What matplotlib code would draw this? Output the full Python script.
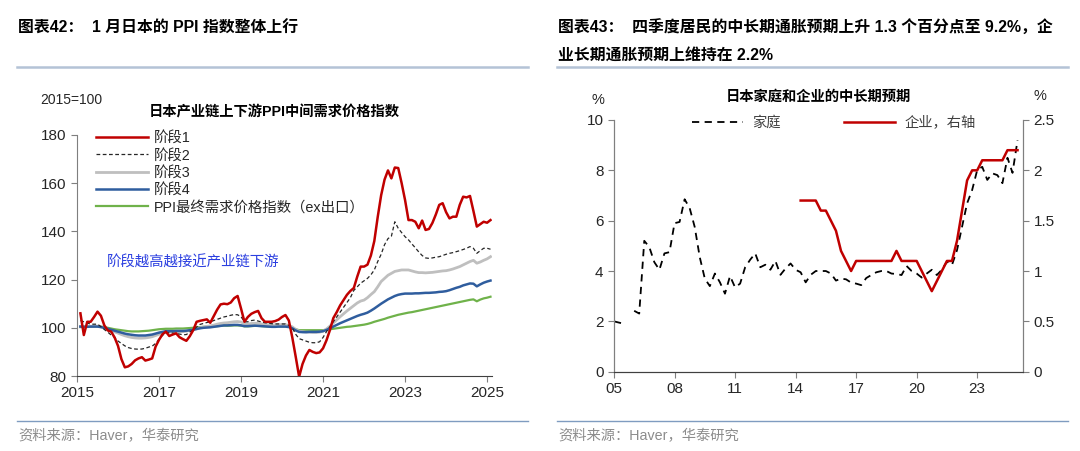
import matplotlib
matplotlib.use("Agg")
import matplotlib.pyplot as plt
import numpy as np
import pandas as pd
from matplotlib.lines import Line2D

plt.rcParams['font.family'] = ['Liberation Sans', 'Noto Sans CJK SC']
plt.rcParams['axes.unicode_minus'] = False

# ---- left panel data: monthly, Jan 2015 .. Jan 2025 ----
months = pd.period_range('2015-01', '2025-01', freq='M')

stage1 = [106, 97, 102.5, 102.5, 104.5, 106.7, 105, 101, 98.9, 98.4, 96, 92.5,
          87, 83.6, 84, 85, 86.5, 87.3, 87.8, 86.4, 86.8, 87.3, 92.2, 95,
          97.3, 98.4, 96.6, 97.2, 97.7, 96.1, 95.3, 94.6, 96.5, 99, 102.5, 102.9,
          103.2, 103.5, 102.1, 104.8, 107.5, 109.7, 110, 109.8, 110.5, 112.3, 113.2, 108,
          102.5, 104.5, 105.8, 106.5, 107, 104, 102.5, 102.5, 102.5, 102.8, 103.4, 104.5,
          105.3, 103, 96, 88, 79.7, 85, 88.5, 90.8, 90, 89.5, 89.8, 91.5,
          94.8, 99, 104, 106.5, 109.3, 111.5, 113.7, 115.3, 116.5, 121.2, 125.4, 125.4,
          126.2, 130, 136, 146, 155, 161.5, 165.3, 162, 166.5, 166.3, 160, 153,
          144.7, 144.7, 144, 141.3, 144.5, 140.6, 141, 143.5, 147, 151, 151.7, 148,
          145.4, 146.1, 146.1, 151, 154.4, 154.1, 154.7, 148.5, 142, 143, 144, 143.6,
          144.7]
stage2 = [103, 102.5, 102, 101.5, 101.5, 101.5, 100.5, 99.3, 98.2, 97, 96, 94.5,
          93.5, 92.5, 91.8, 91.4, 91.2, 91.1, 91.2, 91.5, 92, 92.4, 93.5, 95.3,
          96.8, 98, 97.9, 97.8, 97.6, 97.4, 97.1, 97.2, 98.2, 99.2, 100.3, 101.4,
          101.8, 102.2, 102.5, 103, 103.5, 104, 104.5, 104.8, 105.2, 105.5, 105.4, 104.6,
          102.5, 102.5, 103, 103.2, 102.8, 102.4, 102.1, 101.9, 101.7, 101.6, 101.6, 101.6,
          101.6, 101, 100, 97.3, 95.5, 95, 94.5, 94, 93.8, 93.8, 94.2, 96,
          98.4, 100.5, 102.5, 104.5, 106.5, 108.5, 110.5, 112.5, 115.5, 117, 118.5, 119.5,
          120.5, 122, 124, 127.5, 130.5, 134.5, 137, 138, 144, 141.3, 139.5, 137.8,
          136.5, 134.8, 133.2, 131.5, 130, 129, 128.8, 129, 129.3, 129.5, 130, 130.5,
          130.9, 131.2, 131.6, 132, 132.5, 133, 133.7, 133, 130.9, 132, 133, 133,
          132.6]
stage3 = [100.5, 100.5, 100.6, 100.6, 100.7, 100.7, 100.4, 100, 99.4, 98.8, 98.3, 97.8,
          97.2, 96.7, 96.3, 96, 95.8, 95.7, 95.7, 95.8, 96, 96.3, 96.8, 97.3,
          97.8, 98.2, 98.2, 98.3, 98.4, 98.4, 98.4, 98.6, 98.9, 99.2, 99.6, 100,
          100.3, 100.6, 100.8, 101.1, 101.5, 101.8, 102, 102.1, 102.3, 102.5, 102.6, 102.4,
          101.7, 101.6, 101.8, 101.9, 101.8, 101.6, 101.4, 101.3, 101.2, 101.2, 101.3, 101.3,
          101.3, 101, 100.4, 99.3, 98.6, 98.4, 98.2, 98.2, 98.1, 98.1, 98.2, 98.6,
          99.5, 100.7, 102, 103.3, 104.6, 105.8, 107, 108.1, 109.2, 110.3, 111.1, 111.5,
          112.5, 113.8, 115, 117, 119.2, 120.5, 121.8, 122.6, 123.4, 123.7, 124, 124,
          124, 123.6, 123.2, 122.9, 122.9, 122.8, 122.9, 123, 123.2, 123.4, 123.6, 123.7,
          124, 124.4, 124.9, 125.4, 126.1, 126.8, 127.5, 128, 126.8, 127.3, 128, 128.6,
          129.5]
stage4 = [100.5, 100.4, 100.4, 100.5, 100.5, 100.5, 100.3, 100, 99.6, 99.2, 98.8, 98.4,
          98, 97.6, 97.3, 97.1, 96.9, 96.8, 96.8, 96.8, 97, 97.2, 97.6, 98,
          98.3, 98.6, 98.6, 98.6, 98.7, 98.7, 98.7, 98.8, 99, 99.2, 99.5, 99.8,
          100, 100.1, 100.2, 100.4, 100.6, 100.8, 101, 101, 101.1, 101.2, 101.2, 101,
          100.7, 100.7, 100.8, 100.9, 100.8, 100.7, 100.6, 100.5, 100.4, 100.4, 100.5, 100.5,
          100.5, 100.3, 99.8, 98.9, 98.3, 98.2, 98.2, 98.3, 98.3, 98.3, 98.4, 98.6,
          99.1, 99.8, 100.5, 101.2, 101.9, 102.5, 103.1, 103.7, 104.3, 104.9, 105.4, 105.8,
          106.3, 107.1, 108, 109, 110, 110.9, 111.8, 112.5, 113.2, 113.7, 114, 114.2,
          114.2, 114.2, 114.3, 114.3, 114.4, 114.5, 114.5, 114.6, 114.7, 114.9, 115, 115.2,
          115.6, 116.1, 116.6, 117, 117.6, 118, 118.4, 118.3, 117.2, 118, 118.7, 119.2,
          119.6]
ppi_final = [100.3, 100.3, 100.4, 100.5, 100.6, 100.6, 100.5, 100.3, 100, 99.7, 99.4, 99.2,
             99, 98.8, 98.6, 98.5, 98.5, 98.5, 98.6, 98.7, 98.8, 99, 99.2, 99.4,
             99.5, 99.6, 99.6, 99.6, 99.7, 99.7, 99.7, 99.8, 99.9, 100, 100.2, 100.3,
             100.4, 100.5, 100.5, 100.6, 100.7, 100.8, 100.9, 100.9, 100.9, 101, 101, 100.9,
             100.6, 100.6, 100.7, 100.8, 100.8, 100.7, 100.6, 100.5, 100.5, 100.6, 100.6, 100.6,
             100.6, 100.4, 100, 99.4, 99, 99, 99, 99, 99, 99, 99, 99,
             99.2, 99.4, 99.6, 99.8, 100, 100.2, 100.4, 100.5, 100.7, 100.9, 101.1, 101.3,
             101.6, 102, 102.5, 102.9, 103.3, 103.7, 104.2, 104.6, 105, 105.4, 105.7, 106,
             106.3, 106.5, 106.8, 107.1, 107.4, 107.7, 108, 108.3, 108.6, 108.9, 109.2, 109.5,
             109.8, 110.1, 110.4, 110.7, 111, 111.3, 111.6, 111.8, 111, 111.7, 112.2, 112.5,
             112.9]

# ---- right panel data: quarterly ----
hh_quarters = pd.period_range('2004Q4', '2024Q4', freq='Q')
household = [2.0, 1.95, 1.9, np.nan, 2.42, 2.31, 5.2, 4.95, 4.35, 4.05, 4.7, 4.75,
             5.9, 5.95, 6.85, 6.5, 5.75, 4.55, 3.7, 3.4, 3.9, 3.55, 3.1, 3.8,
             3.35, 3.5, 4.15, 4.45, 4.7, 4.15, 4.25, 4.05, 4.4, 3.85, 4.1, 4.3,
             4.05, 3.95, 3.55, 3.85, 4.0, 4.0, 4.0, 3.9, 3.62, 3.7, 3.67, 3.54,
             3.5, 3.44, 3.72, 3.84, 3.95, 4.0, 4.0, 3.9, 3.88, 3.84, 4.2, 4.0,
             3.9, 3.74, 3.9, 4.05, 3.84, 4.05, 4.37, 4.24, 4.83, 5.76, 6.69, 7.22,
             8.01, 8.14, 7.62, 7.88, 7.81, 7.49, 8.5, 7.9, 9.2]
ent_quarters = pd.period_range('2014Q1', '2024Q4', freq='Q')
enterprise = [1.7, 1.7, 1.7, 1.7, 1.6, 1.6, 1.5, 1.4, 1.2, 1.1, 1.0, 1.1,
              1.1, 1.1, 1.1, 1.1, 1.1, 1.1, 1.1, 1.2, 1.1, 1.1, 1.1, 1.1,
              1.0, 0.9, 0.8, 0.9, 1.0, 1.1, 1.1, 1.3, 1.6, 1.9, 2.0, 2.0,
              2.1, 2.1, 2.1, 2.1, 2.1, 2.2, 2.2, 2.2]


def month_end_years(periods):
    return np.array([p.year + p.month / 12 for p in periods])


def quarter_end_years(periods):
    return np.array([p.year + p.quarter / 4 for p in periods])


fig = plt.figure(figsize=(10.8, 4.51), dpi=100)
spine_c = '#7f7f7f'
text_c = '#262626'
W, H = 1080, 451

# headers / separators
fig.text(18 / W, 1 - 28 / H, '图表42：  1 月日本的 PPI 指数整体上行', fontsize=11.4,
         fontweight='bold', va='center', ha='left', color='black')
fig.text(558 / W, 1 - 28 / H, '图表43：  四季度居民的中长期通胀预期上升 1.3 个百分点至 9.2%，企',
         fontsize=11.4, fontweight='bold', va='center', ha='left', color='black')
fig.text(558 / W, 1 - 56 / H, '业长期通胀预期上维持在 2.2%', fontsize=11.4,
         fontweight='bold', va='center', ha='left', color='black')
for x0, x1 in [(17, 528), (557, 1068)]:
    fig.add_artist(Line2D([x0 / W, x1 / W], [1 - 67 / H] * 2, color='#b4c3d6', lw=1.8))
    fig.add_artist(Line2D([x0 / W, x1 / W], [1 - 421 / H] * 2, color='#7f9cc0', lw=1.0))
fig.text(18 / W, 1 - 436 / H, '资料来源：Haver，华泰研究', fontsize=10.3, color='#8c8c8c', va='center')
fig.text(558 / W, 1 - 436 / H, '资料来源：Haver，华泰研究', fontsize=10.3, color='#8c8c8c', va='center')

# ---- left chart ----
ax1 = fig.add_axes([77 / W, 1 - 376 / H, 415 / W, 241 / H])
xm = month_end_years(months)
ax1.plot(xm, ppi_final, color='#6fb24a', lw=1.6, label='PPI最终需求价格指数（ex出口）', zorder=2)
ax1.plot(xm, stage4, color='#2f5d9e', lw=1.8, label='阶段4', zorder=3)
ax1.plot(xm, stage3, color='#bfbfbf', lw=2.0, label='阶段3', zorder=2)
ax1.plot(xm, stage2, color='#262626', lw=0.9, ls=(0, (3, 2)), label='阶段2', zorder=4)
ax1.plot(xm, stage1, color='#c00000', lw=1.8, label='阶段1', zorder=5)
ax1.set_xlim(2015, 2025.12)
ax1.set_ylim(80, 180)
ax1.set_yticks(range(80, 181, 20))
ax1.set_xticks(range(2015, 2026, 2))
for s in ['top', 'right']:
    ax1.spines[s].set_visible(False)
ax1.spines['left'].set_color(spine_c)
ax1.spines['bottom'].set_color('#404040')
ax1.tick_params(axis='both', direction='out', length=4, color=spine_c, labelsize=11,
                labelcolor=text_c)
ax1.tick_params(axis='x', pad=3)
handles, labels = ax1.get_legend_handles_labels()
order = [4, 3, 2, 1, 0]
ax1.legend([handles[i] for i in order], [labels[i] for i in order], loc='upper left',
           bbox_to_anchor=(0.045, 1.016), frameon=False, fontsize=10.4, handlelength=3.6,
           handletextpad=0.45, labelspacing=0.23, borderpad=0, borderaxespad=0,
           labelcolor=text_c)
ax1.text(0.072, 0.47, '阶段越高越接近产业链下游', transform=ax1.transAxes, fontsize=10.4,
         color='#2b3fe0', va='center')
fig.text(40 / W, 1 - 100 / H, '2015=100', fontsize=10, color=text_c, va='center')
fig.text(274 / W, 1 - 112 / H, '日本产业链上下游PPI中间需求价格指数', fontsize=10.3,
         fontweight='bold', color='black', ha='center', va='center')

# ---- right chart ----
ax2 = fig.add_axes([614 / W, 1 - 371.7 / H, 409 / W, 251.7 / H])
ax3 = ax2.twinx()
ax2.plot(quarter_end_years(hh_quarters), household, color='black', lw=1.3,
         ls=(0, (4, 3)), label='家庭')
ax3.plot(quarter_end_years(ent_quarters), enterprise, color='#c00000', lw=1.8, label='企业，右轴')
ax2.set_xlim(2005, 2025.27)
ax2.set_ylim(0, 10)
ax3.set_ylim(0, 2.5)
ax2.set_yticks(range(0, 11, 2))
ax3.set_yticks([0, 0.5, 1, 1.5, 2, 2.5])
ax3.set_yticklabels(['0', '0.5', '1', '1.5', '2', '2.5'])
ax2.set_xticks(range(2005, 2024, 3))
ax2.set_xticklabels(['05', '08', '11', '14', '17', '20', '23'])
for a in (ax2, ax3):
    a.spines['top'].set_visible(False)
    a.spines['left'].set_color(spine_c)
    a.spines['right'].set_color(spine_c)
    a.spines['bottom'].set_color('#404040')
    a.tick_params(axis='both', direction='out', length=4, color=spine_c, labelsize=11,
                  labelcolor=text_c)
h1, l1 = ax2.get_legend_handles_labels()
h2, l2 = ax3.get_legend_handles_labels()
ax3.legend(h1 + h2, l1 + l2, ncol=2, loc='center left', bbox_to_anchor=(0.19, 0.99),
           frameon=False, fontsize=10.3, handlelength=3.6, handletextpad=0.6,
           columnspacing=4.45, borderpad=0, borderaxespad=0, labelcolor='#404040')
fig.text(598 / W, 1 - 100 / H, '%', fontsize=10.5, color=text_c, ha='center', va='center')
fig.text(1040 / W, 1 - 96 / H, '%', fontsize=10.5, color=text_c, ha='center', va='center')
fig.text(818 / W, 1 - 97 / H, '日本家庭和企业的中长期预期', fontsize=10.3, fontweight='bold',
         color='black', ha='center', va='center')

fig.savefig('out.png', dpi=100)
